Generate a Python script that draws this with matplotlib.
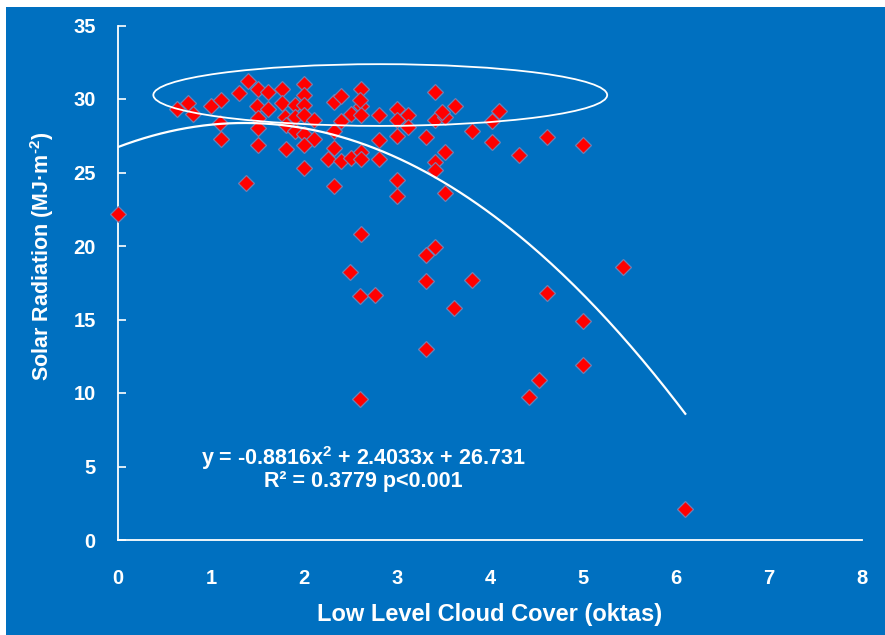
import numpy as np
import matplotlib
matplotlib.use('Agg')
import matplotlib.pyplot as plt
from matplotlib.patches import Ellipse, Rectangle

plt.rcParams['mathtext.fontset'] = 'custom'
plt.rcParams['mathtext.bf'] = 'Liberation Sans:bold'
plt.rcParams['mathtext.rm'] = 'Liberation Sans:bold'

BLUE = '#0070C0'
WHITE = 'white'

# low level cloud cover (oktas) vs daily solar radiation (MJ m-2)
cloud = [
    0.0, 0.63, 0.75, 0.81, 1.0, 1.11, 1.3, 1.1, 1.11, 1.38,
    1.4, 1.5, 1.61, 1.76, 2.0, 2.0, 1.49, 1.61, 1.76, 1.9,
    2.0, 2.32, 2.4, 1.5, 1.51, 1.8, 1.9, 2.0, 2.11, 1.81,
    1.9, 2.0, 2.11, 2.32, 2.4, 2.5, 1.51, 1.81, 2.0, 2.32,
    2.26, 2.4, 2.5, 2.0, 2.32, 2.61, 3.41, 2.61, 2.61, 2.81,
    3.0, 3.12, 3.0, 3.12, 3.41, 3.52, 3.62, 4.1, 2.81, 3.0,
    3.31, 3.81, 4.02, 4.02, 2.61, 2.61, 2.81, 3.52, 3.41, 3.41,
    3.0, 3.0, 3.52, 2.61, 2.49, 2.6, 2.76, 3.41, 3.31, 3.31,
    3.81, 3.61, 3.31, 2.6, 4.42, 4.53, 5.0, 5.0, 4.61, 5.43,
    4.61, 4.31, 5.0, 6.1, 2.6, 3.48,
]
radiation = [
    22.2, 29.3, 29.7, 29.0, 29.5, 29.9, 30.4, 28.4, 27.3, 24.3,
    31.2, 30.7, 30.5, 30.7, 31.0, 30.3, 29.5, 29.3, 29.7, 29.6,
    29.6, 29.8, 30.2, 28.7, 28.0, 28.8, 28.8, 28.9, 28.6, 28.2,
    27.8, 27.6, 27.3, 27.8, 28.5, 29.0, 26.9, 26.6, 26.9, 26.7,
    25.9, 25.8, 26.0, 25.3, 24.1, 30.7, 30.5, 29.5, 28.9, 28.9,
    29.3, 28.9, 28.6, 28.1, 28.6, 28.8, 29.5, 29.2, 27.2, 27.5,
    27.4, 27.8, 28.5, 27.1, 26.4, 25.9, 25.9, 26.4, 25.7, 25.2,
    24.5, 23.4, 23.6, 20.8, 18.2, 16.6, 16.7, 19.9, 19.4, 17.6,
    17.7, 15.8, 13.0, 9.6, 9.7, 10.9, 14.9, 11.9, 16.8, 18.6,
    27.4, 26.2, 26.9, 2.1, 29.9, 29.1,
]

# quadratic fit reported on the chart
fit_coef = [-0.8816, 2.4033, 26.731]
fit_xmax = 6.1

x_ticks = [0, 1, 2, 3, 4, 5, 6, 7, 8]
y_ticks = [0, 5, 10, 15, 20, 25, 30, 35]

FONT = ['Liberation Sans', 'DejaVu Sans']

fig = plt.figure(figsize=(8.85, 6.35), dpi=100, facecolor='white')
# blue panel behind everything
fig.patches.append(Rectangle((6 / 885, 0), 1 - 6 / 885, 1 - 7 / 635,
                             transform=fig.transFigure, facecolor=BLUE,
                             edgecolor='none', zorder=-10))

ax = fig.add_axes([118 / 885, 95 / 635, 744 / 885, 514.5 / 635])
ax.set_facecolor('none')

ax.plot(cloud, radiation, linestyle='none', marker='D', markersize=8.5,
        markerfacecolor='#FF0000', markeredgecolor=(0.45, 0.52, 0.72, 0.9),
        markeredgewidth=0.9, zorder=3, clip_on=False)

xs = np.linspace(0, fit_xmax, 200)
ax.plot(xs, np.polyval(fit_coef, xs), color=WHITE, lw=1.6, zorder=4)

ax.add_patch(Ellipse((2.82, 30.27), 4.88, 4.2, fill=False,
                     edgecolor=WHITE, lw=1.3, zorder=5))

ax.set_xlim(0, 8)
ax.set_ylim(0, 35)
ax.set_xticks(x_ticks)
ax.set_yticks(y_ticks)

for side in ['top', 'right']:
    ax.spines[side].set_visible(False)
for side in ['left', 'bottom']:
    ax.spines[side].set_color(WHITE)
    ax.spines[side].set_linewidth(1.3)

ax.tick_params(axis='y', direction='in', length=6, width=1.2, color=WHITE,
               labelcolor=WHITE, labelsize=14.5, pad=16)
ax.tick_params(axis='x', length=0, labelcolor=WHITE, labelsize=14.5, pad=21)
for lab in ax.get_yticklabels() + ax.get_xticklabels():
    lab.set_fontweight('bold')
    lab.set_family(FONT)

ax.set_xlabel('Low Level Cloud Cover (oktas)', color=WHITE, fontsize=17,
              fontweight='bold', labelpad=11, family=FONT)
ax.set_ylabel('Solar Radiation (MJ·m$^{\\text{-2}}$)', color=WHITE,
              fontsize=15.5, fontweight='bold', family=FONT)
ax.yaxis.set_label_coords(-0.083, 0.552)

ax.text(2.64, 5.6, 'y = -0.8816x$^{\\text{2}}$ + 2.4033x + 26.731',
        color=WHITE, fontsize=15.5, fontweight='bold', ha='center', va='center',
        family=FONT)
ax.text(2.64, 4.0, 'R² = 0.3779 p<0.001',
        color=WHITE, fontsize=15.5, fontweight='bold', ha='center', va='center',
        family=FONT)

fig.savefig('out.png', dpi=100, facecolor='white')
